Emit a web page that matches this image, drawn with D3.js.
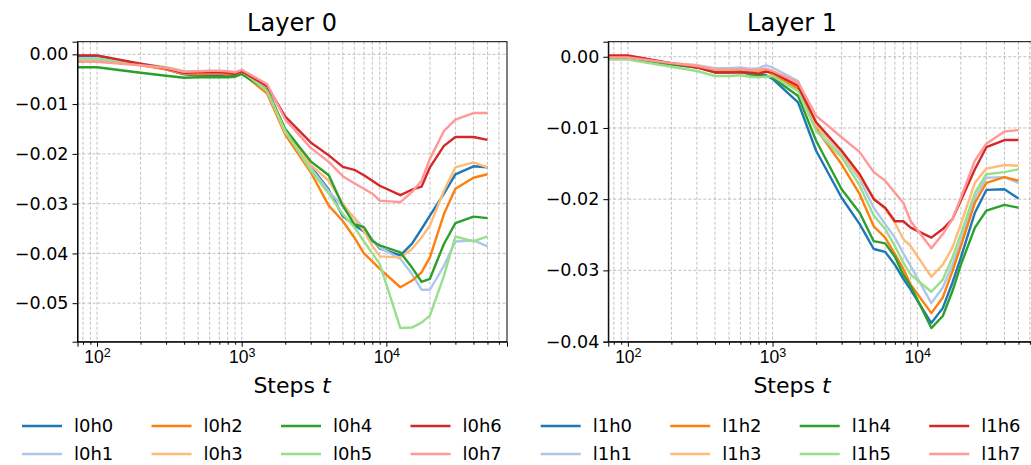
<!DOCTYPE html>
<html>
<head>
<meta charset="utf-8">
<script src="https://cdn.jsdelivr.net/npm/d3@7/dist/d3.min.js"></script>
<style>
  body { margin: 0; background: #fff; }
  svg { display: block; font-family: "DejaVu Sans", sans-serif; }
</style>
</head>
<body>
<svg id="chart" width="1031" height="465"></svg>
<script>
// training steps (x axis, log scale)
var steps = [100, 200, 300, 400, 500, 600, 700, 800, 900, 1000, 1500, 2000, 3000, 4000, 5000, 6000, 7000, 8000, 9000, 12500, 15000, 17500, 20000, 25000, 30000, 40000, 50000];

// layer 0 heads
var l0h0 = [-0.0003, -0.0020, -0.0030, -0.0040, -0.0042, -0.0041, -0.0041, -0.0042, -0.0041, -0.0036, -0.0070, -0.0153, -0.0225, -0.0272, -0.0325, -0.0343, -0.0356, -0.0372, -0.0390, -0.0404, -0.0381, -0.0351, -0.0324, -0.0280, -0.0241, -0.0225, -0.0227];
var l0h1 = [-0.0008, -0.0020, -0.0029, -0.0038, -0.0039, -0.0039, -0.0038, -0.0039, -0.0038, -0.0034, -0.0068, -0.0152, -0.0228, -0.0275, -0.0305, -0.0328, -0.0350, -0.0372, -0.0388, -0.0411, -0.0441, -0.0473, -0.0473, -0.0425, -0.0376, -0.0374, -0.0386];
var l0h2 = [-0.0010, -0.0022, -0.0030, -0.0039, -0.0040, -0.0039, -0.0039, -0.0040, -0.0039, -0.0037, -0.0079, -0.0161, -0.0237, -0.0304, -0.0335, -0.0368, -0.0400, -0.0416, -0.0431, -0.0468, -0.0455, -0.0438, -0.0408, -0.0321, -0.0270, -0.0248, -0.0241];
var l0h3 = [-0.0013, -0.0021, -0.0028, -0.0036, -0.0036, -0.0036, -0.0036, -0.0037, -0.0037, -0.0034, -0.0073, -0.0157, -0.0222, -0.0254, -0.0300, -0.0330, -0.0355, -0.0385, -0.0406, -0.0408, -0.0391, -0.0368, -0.0344, -0.0274, -0.0227, -0.0217, -0.0227];
var l0h4 = [-0.0026, -0.0037, -0.0043, -0.0047, -0.0046, -0.0046, -0.0046, -0.0046, -0.0045, -0.0040, -0.0072, -0.0150, -0.0215, -0.0243, -0.0304, -0.0341, -0.0347, -0.0375, -0.0384, -0.0398, -0.0428, -0.0457, -0.0451, -0.0381, -0.0339, -0.0326, -0.0329];
var l0h5 = [-0.0010, -0.0019, -0.0026, -0.0034, -0.0035, -0.0035, -0.0035, -0.0036, -0.0036, -0.0033, -0.0074, -0.0154, -0.0233, -0.0280, -0.0321, -0.0347, -0.0376, -0.0400, -0.0421, -0.0550, -0.0549, -0.0539, -0.0525, -0.0445, -0.0366, -0.0376, -0.0366];
var l0h6 = [-0.0002, -0.0019, -0.0028, -0.0037, -0.0036, -0.0036, -0.0036, -0.0037, -0.0039, -0.0034, -0.0064, -0.0125, -0.0177, -0.0203, -0.0226, -0.0232, -0.0243, -0.0254, -0.0264, -0.0283, -0.0272, -0.0266, -0.0227, -0.0184, -0.0166, -0.0166, -0.0172];
var l0h7 = [-0.0015, -0.0022, -0.0027, -0.0035, -0.0034, -0.0033, -0.0033, -0.0034, -0.0036, -0.0031, -0.0060, -0.0131, -0.0188, -0.0216, -0.0245, -0.0259, -0.0270, -0.0280, -0.0294, -0.0297, -0.0277, -0.0254, -0.0210, -0.0154, -0.0131, -0.0118, -0.0118];

// layer 1 heads
var l1h0 = [-0.0001, -0.0010, -0.0014, -0.0020, -0.0020, -0.0020, -0.0023, -0.0024, -0.0026, -0.0031, -0.0064, -0.0132, -0.0198, -0.0235, -0.0270, -0.0274, -0.0292, -0.0312, -0.0327, -0.0374, -0.0353, -0.0317, -0.0282, -0.0219, -0.0187, -0.0186, -0.0199];
var l1h1 = [-0.0002, -0.0009, -0.0012, -0.0016, -0.0016, -0.0015, -0.0017, -0.0016, -0.0012, -0.0015, -0.0034, -0.0097, -0.0137, -0.0172, -0.0212, -0.0235, -0.0254, -0.0276, -0.0294, -0.0346, -0.0324, -0.0292, -0.0259, -0.0198, -0.0170, -0.0169, -0.0177];
var l1h2 = [0.0000, -0.0010, -0.0013, -0.0019, -0.0019, -0.0019, -0.0021, -0.0022, -0.0020, -0.0025, -0.0045, -0.0101, -0.0151, -0.0193, -0.0238, -0.0254, -0.0277, -0.0298, -0.0320, -0.0360, -0.0338, -0.0301, -0.0266, -0.0205, -0.0177, -0.0169, -0.0174];
var l1h3 = [-0.0002, -0.0009, -0.0012, -0.0018, -0.0018, -0.0018, -0.0019, -0.0019, -0.0017, -0.0020, -0.0038, -0.0096, -0.0134, -0.0169, -0.0198, -0.0214, -0.0233, -0.0256, -0.0266, -0.0309, -0.0292, -0.0268, -0.0235, -0.0177, -0.0157, -0.0152, -0.0153];
var l1h4 = [-0.0002, -0.0011, -0.0015, -0.0022, -0.0022, -0.0021, -0.0025, -0.0026, -0.0027, -0.0029, -0.0055, -0.0118, -0.0186, -0.0219, -0.0259, -0.0262, -0.0281, -0.0306, -0.0322, -0.0381, -0.0364, -0.0329, -0.0292, -0.0240, -0.0216, -0.0208, -0.0212];
var l1h5 = [-0.0004, -0.0014, -0.0020, -0.0027, -0.0027, -0.0026, -0.0028, -0.0029, -0.0028, -0.0027, -0.0048, -0.0104, -0.0141, -0.0181, -0.0223, -0.0242, -0.0266, -0.0289, -0.0306, -0.0330, -0.0313, -0.0282, -0.0249, -0.0191, -0.0165, -0.0162, -0.0158];
var l1h6 = [0.0002, -0.0009, -0.0015, -0.0022, -0.0022, -0.0022, -0.0022, -0.0024, -0.0021, -0.0022, -0.0041, -0.0092, -0.0132, -0.0165, -0.0200, -0.0212, -0.0231, -0.0231, -0.0240, -0.0254, -0.0242, -0.0228, -0.0202, -0.0158, -0.0127, -0.0117, -0.0117];
var l1h7 = [-0.0001, -0.0009, -0.0013, -0.0018, -0.0018, -0.0017, -0.0019, -0.0018, -0.0017, -0.0020, -0.0036, -0.0083, -0.0113, -0.0134, -0.0162, -0.0174, -0.0191, -0.0205, -0.0231, -0.0269, -0.0249, -0.0228, -0.0198, -0.0146, -0.0122, -0.0105, -0.0103];

var headNames = ["h0", "h1", "h2", "h3", "h4", "h5", "h6", "h7"];
var layer0 = [l0h0, l0h1, l0h2, l0h3, l0h4, l0h5, l0h6, l0h7];
var layer1 = [l1h0, l1h1, l1h2, l1h3, l1h4, l1h5, l1h6, l1h7];
var majorTicks = [100, 1000, 10000];

// tab20 pairs
var colors = ["#1f77b4", "#aec7e8", "#ff7f0e", "#ffbb78", "#2ca02c", "#98df8a", "#d62728", "#ff9896"];

var svg = d3.select("#chart");
var top_ = 41.7, bottom_ = 341.7;

function panel(idx, title, series, left, right, legendX, labelX) {
    var g = svg.append("g");

    // matplotlib style 5% margins (log space for x)
    var lo = Math.log10(d3.min(steps)), hi = Math.log10(d3.max(steps));
    var px = 0.05 * (hi - lo);
    var x = d3.scaleLog().domain([Math.pow(10, lo - px), Math.pow(10, hi + px)]).range([left, right]);
    var all = d3.merge(series);
    var ymin = d3.min(all), ymax = d3.max(all);
    var py = 0.05 * (ymax - ymin);
    var y = d3.scaleLinear().domain([ymin - py, ymax + py]).range([bottom_, top_]);

    // minor tick values inside the domain
    var minors = [];
    for (var e = 1; e <= 4; e++) {
        for (var m = 2; m <= 9; m++) {
            var v = m * Math.pow(10, e);
            if (v >= x.domain()[0] && v <= x.domain()[1]) minors.push(v);
        }
    }
    var yTicks = d3.range(0, y.domain()[0], -0.01);

    var clipId = "clip" + idx;
    g.append("clipPath").attr("id", clipId).append("rect")
        .attr("x", left).attr("y", top_).attr("width", right - left).attr("height", bottom_ - top_);

    // grid
    var grid = g.append("g").attr("stroke", "#b0b0b0").attr("stroke-width", 0.8).attr("stroke-dasharray", "3,2");
    grid.selectAll(".gx").data(majorTicks.concat(minors)).enter().append("line")
        .attr("x1", function(d) { return x(d); }).attr("x2", function(d) { return x(d); })
        .attr("y1", top_).attr("y2", bottom_);
    grid.selectAll(".gy").data(yTicks).enter().append("line")
        .attr("x1", left).attr("x2", right)
        .attr("y1", function(d) { return y(d); }).attr("y2", function(d) { return y(d); });

    // lines (first value held flat back to the left edge)
    var line = d3.line().x(function(d) { return x(d[0]); }).y(function(d) { return y(d[1]); });
    var lines = g.append("g").attr("clip-path", "url(#" + clipId + ")");
    series.forEach(function(vals, i) {
        var pts = [[x.domain()[0], vals[0]]].concat(steps.map(function(s, j) { return [s, vals[j]]; }));
        lines.append("path").datum(pts).attr("d", line)
            .attr("fill", "none").attr("stroke", colors[i]).attr("stroke-width", 2.4)
            .attr("stroke-linejoin", "round");
    });

    // axes
    var xAxis = g.append("g").attr("transform", "translate(0," + bottom_ + ")")
        .call(d3.axisBottom(x).tickValues(majorTicks).tickSize(5).tickFormat(function() { return ""; }));
    g.append("g").attr("transform", "translate(0," + bottom_ + ")")
        .call(d3.axisBottom(x).tickValues(minors).tickSize(3).tickFormat(function() { return ""; }))
        .call(function(a) { a.select(".domain").remove(); });
    xAxis.selectAll(".tick").each(function(d) {
        var t = d3.select(this).append("text").attr("fill", "#000").attr("y", 21)
            .attr("font-size", 17.5).attr("text-anchor", "middle");
        t.append("tspan").text("10");
        t.append("tspan").attr("dy", "-0.45em").attr("font-size", 12.5).text(Math.round(Math.log10(d)));
    });
    var yAxis = g.append("g").attr("transform", "translate(" + left + ",0)")
        .call(d3.axisLeft(y).tickValues(yTicks).tickSize(5).tickPadding(4).tickFormat(d3.format(".2f")));
    yAxis.selectAll("text").attr("font-size", 17.5).attr("font-family", "DejaVu Sans").attr("fill", "#000");

    // frame
    g.append("rect").attr("x", left).attr("y", top_).attr("width", right - left).attr("height", bottom_ - top_)
        .attr("fill", "none").attr("stroke", "#000").attr("stroke-width", 1);

    g.append("text").attr("x", labelX).attr("y", 31).attr("text-anchor", "middle")
        .attr("font-size", 24).text(title);
    var xl = g.append("text").attr("x", labelX).attr("y", 393).attr("text-anchor", "middle")
        .attr("font-size", 22);
    xl.append("tspan").text("Steps ");
    xl.append("tspan").attr("font-style", "italic").text("t");

    // legend: 4 columns x 2 rows, column-major
    var leg = g.append("g");
    headNames.forEach(function(h, i) {
        var col = Math.floor(i / 2), row = i % 2;
        var lx = legendX + col * 129.5, ly = 426 + row * 28;
        leg.append("line").attr("x1", lx).attr("x2", lx + 40).attr("y1", ly).attr("y2", ly)
            .attr("stroke", colors[i]).attr("stroke-width", 2.4);
        leg.append("text").attr("x", lx + 52).attr("y", ly).attr("dy", "0.35em")
            .attr("font-size", 18).text("l" + idx + h);
    });
}

panel(0, "Layer 0", layer0, 77.5, 507, 22, 292);
panel(1, "Layer 1", layer1, 608.3, 1038, 540.7, 792);
</script>
</body>
</html>
